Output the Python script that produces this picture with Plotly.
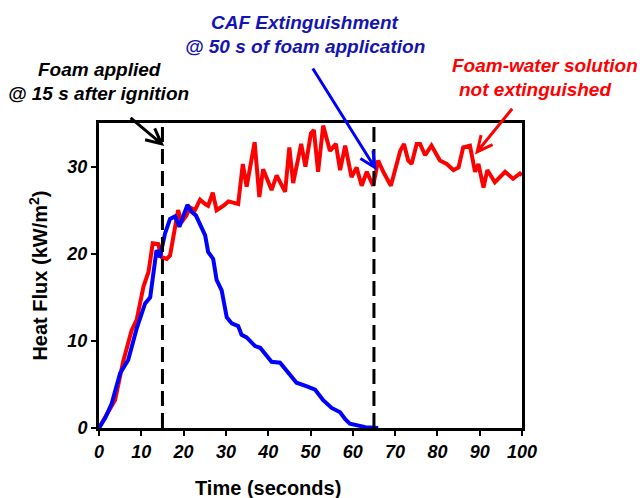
import math
import plotly.graph_objects as go

# Foam-water solution (red)
red_t = [0, 1.9, 3.8, 5.7, 7.7, 8.9, 10.5, 11.7, 12.7, 14.0, 14.8, 16.0, 16.8, 18.7, 19.5, 20.7,
         21.5, 22.7, 23.9, 25.1, 25.8, 26.9, 27.8, 29.4, 30.6, 32.9, 34.0, 34.9, 36.8, 37.9, 38.8,
         40.8, 42.0, 44.0, 45.0, 45.9, 47.8, 48.8, 50.1, 50.8, 51.8, 53.0, 54.6, 56.0, 57.0, 58.2,
         59.7, 60.9, 62.1, 63.3, 64.8, 66.0, 67.2, 69.0, 71.2, 72.1, 73.1, 73.9, 75.1, 75.9, 77.1,
         78.6, 80.6, 82.2, 83.8, 85.0, 86.1, 87.7, 88.5, 88.9, 89.7, 90.9, 91.8, 93.6, 96.0, 97.9,
         99.5, 100]
red_v = [0, 1.5, 3.2, 7.6, 11.2, 12.4, 16.2, 17.9, 21.2, 21.1, 19.6, 19.4, 19.8, 25.0, 23.6, 24.4,
         25.3, 25.0, 26.2, 25.7, 25.5, 27.0, 25.0, 25.5, 26.0, 25.7, 30.3, 27.7, 32.8, 26.5, 29.7,
         27.3, 29.0, 27.1, 32.2, 28.1, 32.6, 30.0, 33.8, 34.2, 29.4, 34.7, 31.8, 32.6, 29.6, 32.4,
         28.8, 29.9, 27.8, 29.4, 27.8, 30.7, 29.4, 27.8, 31.8, 32.6, 30.7, 30.3, 32.6, 32.6, 31.3,
         32.4, 30.7, 30.3, 29.6, 29.9, 32.2, 32.4, 30.7, 29.4, 30.3, 27.6, 29.6, 28.2, 29.4, 28.6,
         29.2, 29.0]

# CAF (blue)
blue_t = [0, 1.5, 3.0, 5.0, 6.9, 8.9, 10.9, 12.1, 13.6, 14.4, 15.6, 16.8, 18.0, 19.0, 20.9, 21.9,
          22.9, 23.9, 25.1, 25.8, 27.0, 27.8, 29.0, 30.2, 31.4, 32.9, 33.7, 34.9, 36.9, 38.1, 40.8,
          42.8, 44.5, 46.7, 49.0, 51.1, 53.0, 55.0, 57.0, 58.2, 59.3, 60.9, 63.0, 66.0]
blue_v = [0, 1.2, 2.8, 6.3, 7.8, 11.4, 14.3, 15.0, 20.4, 19.6, 22.3, 24.0, 24.3, 23.1, 25.6, 24.8,
          24.4, 23.4, 22.1, 20.2, 19.4, 17.0, 15.8, 12.7, 12.0, 11.7, 10.7, 10.4, 9.4, 9.2, 7.6,
          7.5, 6.5, 5.2, 4.8, 4.4, 3.2, 2.3, 1.8, 1.0, 0.5, 0.3, 0.1, 0.0]

event_times = [15, 65]
x_ticks = [0, 10, 20, 30, 40, 50, 60, 70, 80, 90, 100]
y_ticks = [0, 10, 20, 30]
X_RANGE = [0, 100]
Y_RANGE = [0, 35]

FONT = "Liberation Sans, Arial, sans-serif"

fig = go.Figure()
fig.add_trace(go.Scatter(x=red_t, y=red_v, mode="lines",
                         line=dict(color="#FF0000", width=4), showlegend=False))
fig.add_trace(go.Scatter(x=blue_t, y=blue_v, mode="lines",
                         line=dict(color="#0000FF", width=4), showlegend=False))

for t in event_times:
    fig.add_shape(type="line", xref="x", yref="y", x0=t, x1=t, y0=Y_RANGE[0], y1=Y_RANGE[1],
                  line=dict(color="black", width=3, dash="15px,7px"), layer="above")

tickfont = dict(family=FONT, size=18, color="black", weight="bold", style="italic")

fig.update_xaxes(range=X_RANGE, tickvals=x_ticks, ticks="outside", ticklen=5, tickwidth=2,
                 tickcolor="black", showline=True, linewidth=3, linecolor="black", mirror=True,
                 showgrid=False, zeroline=False, tickfont=tickfont)
fig.update_yaxes(range=Y_RANGE, tickvals=y_ticks, ticks="outside", ticklen=5, tickwidth=2,
                 tickcolor="black", showline=True, linewidth=3, linecolor="black", mirror=True,
                 showgrid=False, zeroline=False, tickfont=tickfont)

ann_font = dict(family=FONT, size=19, weight="bold", style="italic")
texts = [
    ("CAF Extinguishment", 0.487, 1.331, "#1414B4"),
    ("@ 50 s of foam application", 0.487, 1.252, "#1414B4"),
    ("Foam applied", 0.0, 1.174, "black"),
    ("@ 15 s after ignition", -0.002, 1.098, "black"),
    ("Foam-water solution", 1.054, 1.187, "#FF0000"),
    ("not extinguished", 1.031, 1.111, "#FF0000"),
]
for txt, xp, yp, col in texts:
    fig.add_annotation(text=txt, xref="paper", yref="paper", x=xp, y=yp, showarrow=False,
                       xanchor="center", yanchor="middle", font=dict(ann_font, color=col))


def arrow_path(dx, dy, head=17, ang=26):
    """Shaft from tip (0,0) to tail (dx,dy) in pixels (y up), with an open V head at the tip."""
    L = math.hypot(dx, dy)
    ux, uy = dx / L, dy / L
    a = math.radians(ang)
    pts = []
    for s in (1, -1):
        rx = ux * math.cos(s * a) - uy * math.sin(s * a)
        ry = ux * math.sin(s * a) + uy * math.cos(s * a)
        pts.append((rx * head, ry * head))
    return (f"M{dx:.1f},{dy:.1f} L0,0 M{pts[0][0]:.1f},{pts[0][1]:.1f} L0,0 "
            f"L{pts[1][0]:.1f},{pts[1][1]:.1f}")


# arrow tips (data coords) and tail offsets (pixels, y up)
arrows = [
    (65.2, 29.9, -62, 99, "#0000FF"),
    (14.8, 32.6, -31, 26, "black"),
    (89.4, 31.7, 35, 43, "#FF0000"),
]
for x, y, dx, dy, col in arrows:
    fig.add_shape(type="path", xref="paper", yref="paper",
                  xsizemode="pixel", ysizemode="pixel",
                  xanchor=(x - X_RANGE[0]) / (X_RANGE[1] - X_RANGE[0]),
                  yanchor=(y - Y_RANGE[0]) / (Y_RANGE[1] - Y_RANGE[0]),
                  path=arrow_path(dx, dy), line=dict(color=col, width=3), layer="above")

# axis titles
fig.add_annotation(text="Time (seconds)", xref="paper", yref="paper", x=0.4, y=-0.197,
                   showarrow=False, xanchor="center", yanchor="middle",
                   font=dict(family=FONT, size=20, weight="bold", color="black"))
fig.add_annotation(text="Heat Flux (kW/m<sup>2</sup>)", xref="paper", yref="paper", x=-0.144,
                   y=0.5, showarrow=False, textangle=-90, xanchor="center", yanchor="middle",
                   font=dict(family=FONT, size=20, weight="bold", color="black"))

fig.update_layout(width=640, height=498, margin=dict(l=99, r=118, t=123, b=70),
                  plot_bgcolor="white", paper_bgcolor="white", showlegend=False)

fig.write_html("out.html", config={"displayModeBar": False},
               post_script="document.body.style.margin='0px';document.body.style.overflow='hidden';")
